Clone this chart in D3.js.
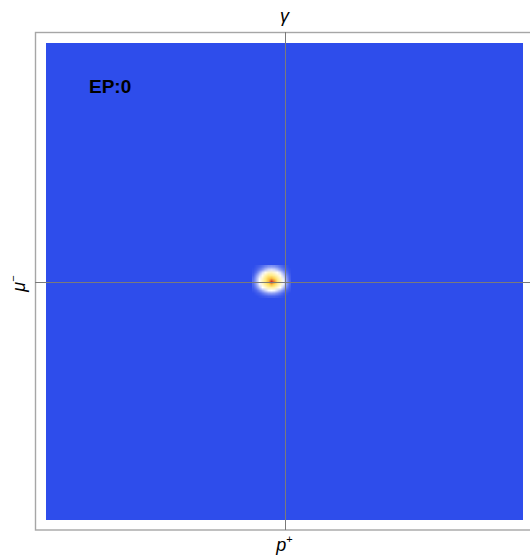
<!DOCTYPE html>
<html>
<head>
<meta charset="utf-8">
<script src="https://cdn.jsdelivr.net/npm/d3@7"></script>
<style>
  html, body { margin: 0; padding: 0; background: #fff; }
  svg { display: block; }
</style>
</head>
<body>
<svg id="chart" width="530" height="559"></svg>
<script>
// Event-plane label and axis particle names
const panelLabel = "EP:0";
const axisTop = "γ";
const axisBottom = { base: "p", sup: "+" };
const axisLeft = { base: "μ", sup: "−" };

// Density grid (sampling positions in plot units, intensity 0..1)
const gridX = [-0.130, -0.1175, -0.105, -0.0925, -0.080, -0.0675, -0.055, -0.0425, -0.030, -0.0175, -0.005, 0.0075, 0.020];
const gridY = [0.0625, 0.050, 0.0375, 0.025, 0.0125, 0, -0.0125, -0.025, -0.0375, -0.050, -0.0625];
const density = [
  [0.00, 0.02, 0.04, 0.07, 0.11, 0.14, 0.15, 0.14, 0.11, 0.07, 0.04, 0.02, 0.00],
  [0.01, 0.04, 0.09, 0.15, 0.22, 0.27, 0.29, 0.27, 0.22, 0.15, 0.09, 0.04, 0.01],
  [0.02, 0.08, 0.19, 0.29, 0.38, 0.45, 0.46, 0.42, 0.36, 0.29, 0.18, 0.08, 0.02],
  [0.04, 0.15, 0.27, 0.39, 0.50, 0.58, 0.58, 0.53, 0.46, 0.38, 0.26, 0.13, 0.04],
  [0.07, 0.19, 0.33, 0.46, 0.58, 0.70, 0.76, 0.68, 0.55, 0.45, 0.32, 0.17, 0.05],
  [0.08, 0.20, 0.35, 0.48, 0.59, 0.74, 0.98, 0.84, 0.60, 0.48, 0.34, 0.18, 0.06],
  [0.06, 0.17, 0.32, 0.44, 0.54, 0.64, 0.74, 0.66, 0.53, 0.44, 0.32, 0.17, 0.06],
  [0.04, 0.12, 0.24, 0.35, 0.43, 0.50, 0.52, 0.50, 0.43, 0.35, 0.24, 0.12, 0.04],
  [0.02, 0.05, 0.12, 0.20, 0.27, 0.33, 0.35, 0.33, 0.27, 0.20, 0.12, 0.05, 0.02],
  [0.00, 0.02, 0.04, 0.08, 0.12, 0.15, 0.16, 0.15, 0.12, 0.08, 0.04, 0.02, 0.00],
  [0.00, 0.00, 0.01, 0.02, 0.03, 0.04, 0.04, 0.04, 0.03, 0.02, 0.01, 0.00, 0.00]
];

const svg = d3.select("#chart");

const x = d3.scaleLinear().domain([-1, 1]).range([46, 523]);
const y = d3.scaleLinear().domain([-1, 1]).range([520, 43]);

const color = d3.scaleLinear()
  .domain([0, 0.35, 0.64, 0.82, 1])
  .range(["#2e4deb", "#ffffff", "#ffe45c", "#f39a2c", "#c3262a"])
  .clamp(true);

// outer frame
svg.append("rect")
  .attr("x", 35.5).attr("y", 32.5)
  .attr("width", 520).attr("height", 497.5)
  .attr("fill", "#fff")
  .attr("stroke", "#a6a6a6").attr("stroke-width", 1.4);

// background field
svg.append("rect")
  .attr("x", x(-1)).attr("y", y(1))
  .attr("width", x(1) - x(-1)).attr("height", y(-1) - y(1))
  .attr("fill", color(0));

// density image, smoothed when scaled
const cols = gridX.length, rows = gridY.length;
const cv = document.createElement("canvas");
cv.width = cols; cv.height = rows;
const ctx = cv.getContext("2d");
const img = ctx.createImageData(cols, rows);
density.forEach((row, j) => row.forEach((v, i) => {
  const c = d3.rgb(color(v));
  const k = (j * cols + i) * 4;
  img.data[k] = c.r; img.data[k + 1] = c.g; img.data[k + 2] = c.b; img.data[k + 3] = 255;
}));
ctx.putImageData(img, 0, 0);

const dx = (gridX[1] - gridX[0]) / 2;
const dy = (gridY[0] - gridY[1]) / 2;
svg.append("image")
  .attr("href", cv.toDataURL())
  .attr("x", x(gridX[0] - dx))
  .attr("y", y(gridY[0] + dy))
  .attr("width", x(gridX[cols - 1] + dx) - x(gridX[0] - dx))
  .attr("height", y(gridY[rows - 1] - dy) - y(gridY[0] + dy))
  .attr("preserveAspectRatio", "none")
  .style("image-rendering", "auto");

// crosshair through the origin
svg.append("line")
  .attr("x1", Math.round(x(0)) + 0.5).attr("x2", Math.round(x(0)) + 0.5)
  .attr("y1", 32).attr("y2", 530)
  .attr("stroke", "#7a7a7a").attr("stroke-width", 1);
svg.append("line")
  .attr("x1", 35).attr("x2", 530)
  .attr("y1", Math.round(y(0)) + 0.5).attr("y2", Math.round(y(0)) + 0.5)
  .attr("stroke", "#7a7a7a").attr("stroke-width", 1);

// panel label
svg.append("text")
  .attr("x", 89).attr("y", 93)
  .attr("font-family", "Liberation Sans, Arial, sans-serif")
  .attr("font-weight", "bold")
  .attr("font-size", 19)
  .attr("fill", "#000")
  .text(panelLabel);

const labelFont = "Liberation Sans, Arial, sans-serif";

svg.append("text")
  .attr("x", x(0)).attr("y", 22)
  .attr("text-anchor", "middle")
  .attr("font-family", labelFont).attr("font-style", "italic")
  .attr("font-size", 18)
  .text(axisTop);

const tb = svg.append("text")
  .attr("x", x(0)).attr("y", 551)
  .attr("text-anchor", "middle")
  .attr("font-family", labelFont).attr("font-style", "italic")
  .attr("font-size", 18);
tb.append("tspan").text(axisBottom.base);
tb.append("tspan").attr("dy", -8).attr("font-size", 11).attr("font-style", "normal").text(axisBottom.sup);

const tl = svg.append("text")
  .attr("transform", `translate(25,${y(0) + 2}) rotate(-90)`)
  .attr("text-anchor", "middle")
  .attr("font-family", labelFont).attr("font-style", "italic")
  .attr("font-size", 18);
tl.append("tspan").text(axisLeft.base);
tl.append("tspan").attr("dy", -8).attr("font-size", 11).attr("font-style", "normal").text(axisLeft.sup);
</script>
</body>
</html>
